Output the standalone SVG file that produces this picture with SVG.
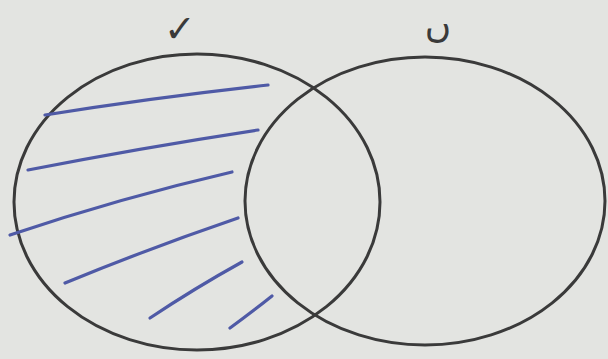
<svg xmlns="http://www.w3.org/2000/svg" width="608" height="359" viewBox="0 0 608 359">
<style>
.set{fill:none;stroke:#3a3a3a;stroke-width:3}
.hatch{fill:none;stroke:#4f5aa6;stroke-width:3.2;stroke-linecap:round}
.lbl{font-family:"DejaVu Sans",sans-serif;font-size:36px;fill:#3a3a3a;text-anchor:middle}
</style>
<rect width="608" height="359" fill="#e3e4e1"/>
<g id="setA">
<ellipse class="set" cx="197" cy="202" rx="183" ry="148"/>
<text class="lbl" x="180" y="42" style="font-size:38px">✓</text>
</g>
<g id="setB">
<ellipse class="set" cx="425" cy="201" rx="180" ry="144"/>
<text class="lbl" x="438" y="37">ں</text>
</g>
<g id="hatching">
<path class="hatch" d="M45,115 Q150,98 268,85"/>
<path class="hatch" d="M28,170 Q140,148 258,130"/>
<path class="hatch" d="M10,235 Q120,198 232,172"/>
<path class="hatch" d="M65,283 Q150,248 238,218"/>
<path class="hatch" d="M150,318 Q195,288 242,262"/>
<path class="hatch" d="M230,328 Q252,312 272,296"/>
</g>
</svg>
